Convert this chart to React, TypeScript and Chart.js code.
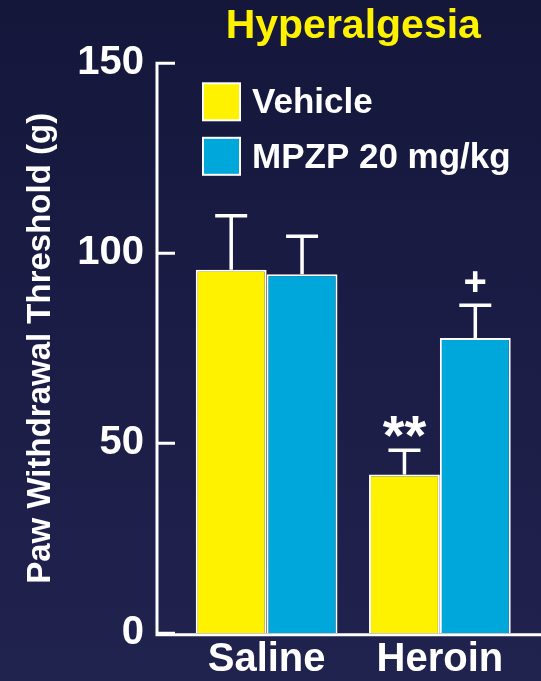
import { useEffect, useRef } from "react";
import { Chart, registerables } from "chart.js";

Chart.register(...registerables);

// ---- data ----
const categories = ["Saline", "Heroin"];
const seriesLabels = ["Vehicle", "MPZP 20 mg/kg"];
const vehicleValues = [95.7, 41.8];
const vehicleErrors = [14.2, 6.4];
const mpzpValues = [94.5, 77.7];
const mpzpErrors = [10.0, 8.6];
const vehicleMarks = ["", "**"];
const mpzpMarks = ["", "+"];
const yTicks = [0, 50, 100, 150];
const chartTitle = "Hyperalgesia";
const yAxisTitle = "Paw Withdrawal Threshold (g)";

const FONT = "'Liberation Sans', Arial, Helvetica, sans-serif";
const WHITE = "#ffffff";
const YELLOW = "#fff200";
const BLUE = "#00a7db";

// Axis frame with inward ticks, error bars, significance marks and legend
const figurePlugin = {
  id: "figureDecor",
  afterDatasetsDraw(chart: any) {
    const { ctx, chartArea } = chart;
    const y = chart.scales.y;
    ctx.save();

    // L-shaped axis frame
    const axisX = chartArea.left - 23;
    const zeroY = y.getPixelForValue(0);
    const baseY = zeroY + 1.5;
    ctx.strokeStyle = WHITE;
    ctx.lineWidth = 3;
    ctx.lineCap = "butt";
    ctx.beginPath();
    ctx.moveTo(axisX, y.getPixelForValue(yTicks[yTicks.length - 1]) - 1.5);
    ctx.lineTo(axisX, baseY + 1.5);
    ctx.moveTo(axisX - 1.5, baseY);
    ctx.lineTo(chart.width, baseY);
    yTicks.forEach((v) => {
      const py = y.getPixelForValue(v);
      ctx.moveTo(axisX, py);
      ctx.lineTo(axisX + 18, py);
    });
    ctx.stroke();

    // error bars (upper half) and marks
    chart.data.datasets.forEach((ds: any, di: number) => {
      const meta = chart.getDatasetMeta(di);
      meta.data.forEach((bar: any, i: number) => {
        const topY = y.getPixelForValue(ds.data[i] + ds.errors[i]);
        ctx.strokeStyle = WHITE;
        ctx.lineWidth = 3.5;
        ctx.beginPath();
        ctx.moveTo(bar.x, bar.y);
        ctx.lineTo(bar.x, topY);
        ctx.moveTo(bar.x - 16, topY);
        ctx.lineTo(bar.x + 16, topY);
        ctx.stroke();

        const mark = ds.marks[i];
        if (mark) {
          const size = mark === "+" ? 40 : 56;
          ctx.font = `bold ${size}px ${FONT}`;
          ctx.fillStyle = WHITE;
          ctx.textAlign = "center";
          ctx.textBaseline = "alphabetic";
          const m = ctx.measureText(mark);
          const centerY = topY - 24;
          const baseline =
            centerY + (m.actualBoundingBoxAscent - m.actualBoundingBoxDescent) / 2;
          ctx.fillText(mark, bar.x, baseline);
        }
      });
    });

    // legend
    const boxX = chartArea.left + 23;
    let boxY = chartArea.top + 20;
    chart.data.datasets.forEach((ds: any) => {
      ctx.fillStyle = ds.backgroundColor;
      ctx.fillRect(boxX, boxY, 37, 37);
      ctx.strokeStyle = WHITE;
      ctx.lineWidth = 2;
      ctx.strokeRect(boxX, boxY, 37, 37);
      ctx.font = `bold 35px ${FONT}`;
      ctx.fillStyle = WHITE;
      ctx.textAlign = "left";
      ctx.textBaseline = "middle";
      ctx.fillText(ds.label, boxX + 49, boxY + 20.5);
      boxY += 54.5;
    });

    ctx.restore();
  },
};

export default function App() {
  const canvasRef = useRef<HTMLCanvasElement | null>(null);

  useEffect(() => {
    if (!canvasRef.current) return;
    const chart = new Chart(canvasRef.current, {
      type: "bar",
      data: {
        labels: categories,
        datasets: [
          {
            label: seriesLabels[0],
            data: vehicleValues,
            errors: vehicleErrors,
            marks: vehicleMarks,
            backgroundColor: YELLOW,
            borderColor: WHITE,
            borderWidth: 2,
          } as any,
          {
            label: seriesLabels[1],
            data: mpzpValues,
            errors: mpzpErrors,
            marks: mpzpMarks,
            backgroundColor: BLUE,
            borderColor: WHITE,
            borderWidth: 2,
          } as any,
        ],
      },
      options: {
        animation: false,
        responsive: true,
        maintainAspectRatio: false,
        layout: { padding: { top: 0, right: 14.5, bottom: 0, left: 0 } },
        datasets: { bar: { categoryPercentage: 0.818, barPercentage: 1 } },
        scales: {
          x: {
            grid: { display: false, drawTicks: false },
            border: { display: false },
            ticks: {
              color: WHITE,
              padding: 3,
              font: { family: FONT, size: 40, weight: "bold" },
            },
            afterFit: (scale: any) => {
              scale.height = 47.7;
            },
          },
          y: {
            min: 0,
            max: 150,
            afterBuildTicks: (scale: any) => {
              scale.ticks = yTicks.map((v) => ({ value: v }));
            },
            grid: { display: false, drawTicks: false },
            border: { display: false },
            ticks: {
              color: WHITE,
              padding: 36,
              font: { family: FONT, size: 40, weight: "bold" },
            },
            title: {
              display: true,
              text: yAxisTitle,
              color: WHITE,
              padding: { top: 21, bottom: 0 },
              font: { family: FONT, size: 33, weight: "bold" },
            },
            afterFit: (scale: any) => {
              scale.width = 180;
              scale.paddingTop = 0;
              scale.paddingBottom = 0;
            },
          },
        },
        plugins: {
          legend: { display: false },
          tooltip: { enabled: false },
          title: {
            display: true,
            text: chartTitle,
            color: YELLOW,
            fullSize: false,
            padding: { top: 2.5, bottom: 11.6 },
            font: { family: FONT, size: 41, weight: "bold" },
          },
        },
      },
      plugins: [figurePlugin],
    });
    return () => chart.destroy();
  }, []);

  return (
    <div
      style={{
        position: "fixed",
        left: 0,
        top: 0,
        width: 541,
        height: 681,
        background: "linear-gradient(180deg, #14173a 0%, #1a1c45 45%, #21234f 100%)",
      }}
    >
      <canvas ref={canvasRef} />
    </div>
  );
}
